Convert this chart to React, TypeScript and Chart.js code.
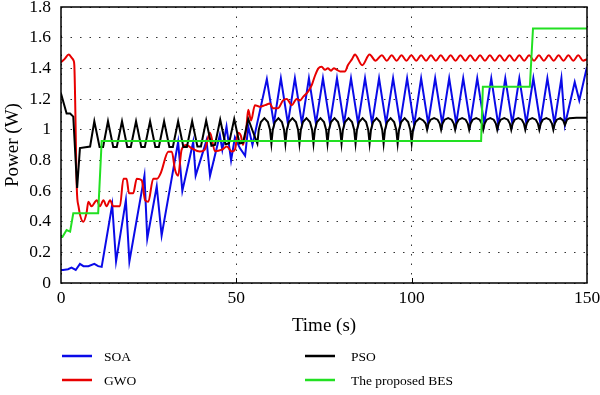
import React, { useEffect, useRef } from "react";
import { Chart, registerables } from "chart.js";

Chart.register(...registerables);

const seriesLabels = ["SOA", "GWO", "PSO", "The proposed BES"];
const seriesColors = ["#0a0ae8", "#e80000", "#000000", "#22e022"];
const xTicks = [0, 50, 100, 150];
const yTicks = [0, 0.2, 0.4, 0.6, 0.8, 1, 1.2, 1.4, 1.6, 1.8];
const xTitle = "Time (s)";
const yTitle = "Power (W)";

// [time (s), power (W)]
const soa: [number, number][] = [
  [0, 0.085], [0.6, 0.085], [2, 0.09], [3, 0.1], [4.2, 0.085], [5.4, 0.125], [6.4, 0.11], [7.8, 0.11],
  [9.5, 0.125], [10.6, 0.11], [11.6, 0.105],
  [14.6, 0.51], [15.7, 0.14], [18.5, 0.54], [19.5, 0.14], [23.8, 0.7], [24.6, 0.29], [27.3, 0.63],
  [28.7, 0.31], [33.4, 0.92], [34.6, 0.6], [37.7, 0.92], [38.4, 0.7], [41.5, 0.93], [42.5, 0.7],
  [45.3, 0.965], [46, 0.87], [47.2, 1.02], [48.5, 0.8], [49.6, 0.95], [51, 0.88], [52.5, 0.83],
  [53.4, 1.02], [54.6, 0.9],
  [58.7, 1.33], [60.7, 1.04], [62.7, 1.335], [64.7, 1.04], [66.7, 1.335], [68.7, 1.04], [70.7, 1.335],
  [72.7, 1.04], [74.7, 1.335], [76.7, 1.04], [78.7, 1.335], [80.7, 1.04], [82.7, 1.335], [84.7, 1.04],
  [86.7, 1.335], [88.7, 1.04], [90.7, 1.335], [92.7, 1.04], [94.7, 1.335], [96.7, 1.04], [98.7, 1.335],
  [100.7, 1.03], [102.7, 1.335], [104.7, 1.04], [106.7, 1.335], [108.7, 1.04], [110.7, 1.335],
  [112.7, 1.04], [114.7, 1.335], [116.7, 1.04], [118.7, 1.335], [120.7, 1.04], [122.7, 1.335],
  [124.7, 1.03], [126.7, 1.335], [128.7, 1.04], [130.7, 1.335], [132.7, 1.04], [134.7, 1.335],
  [136.7, 1.04], [138.7, 1.335], [140.7, 1.04], [142.7, 1.335], [143.7, 1.03], [146.5, 1.31],
  [147.8, 1.19], [150, 1.41],
];

const gwo: [number, number][] = [
  [0, 1.44], [1, 1.46], [2.2, 1.49], [3, 1.47], [3.6, 1.45], [3.8, 1.42], [4.5, 0.62], [5, 0.5],
  [6.4, 0.4], [7.3, 0.46], [7.8, 0.53], [8.7, 0.5], [10.2, 0.54], [11.1, 0.5], [12.1, 0.54], [13, 0.5],
  [14, 0.54], [14.9, 0.5], [16.8, 0.5], [17.8, 0.68], [18.7, 0.68], [19.4, 0.585], [20.6, 0.585],
  [21.6, 0.68], [23, 0.67], [24, 0.54], [24.9, 0.53], [26.3, 0.68], [27.4, 0.68], [28.5, 0.72],
  [30.6, 0.856], [31.6, 0.856], [32.5, 0.74], [33.4, 0.7], [34.4, 0.87], [35.8, 0.9], [37.2, 0.88],
  [39.6, 0.857], [41, 0.87], [42.5, 0.98], [43.9, 0.86], [45.9, 0.87], [47.3, 0.89], [48.7, 0.857],
  [49.6, 0.87], [50.5, 0.98], [51.3, 0.96], [51.9, 0.9], [52.8, 1], [53.4, 1.13], [54.2, 1.06],
  [55.3, 1.16], [56.7, 1.15], [58.2, 1.16], [59.6, 1.17], [60.4, 1.14], [61.9, 1.14], [63.3, 1.19],
  [64.4, 1.2], [65.8, 1.16], [67.2, 1.2], [68.1, 1.19], [69.1, 1.215], [70.5, 1.25], [71.5, 1.29],
  [72.4, 1.35], [73.4, 1.4], [74.3, 1.41], [75.3, 1.39], [76.1, 1.4], [77, 1.385], [77.8, 1.4],
  [78.7, 1.39], [79.6, 1.38], [81, 1.38], [81.8, 1.42], [83, 1.46], [83.8, 1.49], [85.9, 1.42],
  [88, 1.49], [89.7, 1.45],
  [91.5, 1.485], [92.9, 1.45], [94.3, 1.485], [95.7, 1.45], [97.1, 1.485], [98.5, 1.45], [99.9, 1.485],
  [101.3, 1.45], [102.7, 1.485], [104.1, 1.45], [105.5, 1.485], [106.9, 1.45], [108.3, 1.485],
  [109.7, 1.45], [111.1, 1.485], [112.5, 1.45], [113.9, 1.485], [115.3, 1.45], [116.7, 1.485],
  [118.1, 1.45], [119.5, 1.485], [120.9, 1.45], [122.3, 1.485], [123.7, 1.45], [125.1, 1.485],
  [126.5, 1.45], [127.9, 1.485], [129.3, 1.45], [130.7, 1.485], [132.1, 1.45], [133.5, 1.485],
  [134.9, 1.45], [136.3, 1.485], [137.7, 1.45], [139.1, 1.485], [140.5, 1.45], [141.9, 1.485],
  [143.3, 1.45], [144.7, 1.485], [146.1, 1.45], [147.5, 1.485], [148.9, 1.45], [150, 1.46],
];

const pso: [number, number][] = [
  [0, 1.235], [0.8, 1.17], [1.6, 1.105], [2.6, 1.105], [3.5, 1.085], [4.6, 0.62], [5.4, 0.88], [8.3, 0.89],
  [9.5, 1.055], [11, 0.887], [12, 0.887],
  [13.4, 1.055], [14.9, 0.887], [15.9, 0.887],
  [17.4, 1.055], [18.9, 0.887], [19.9, 0.887],
  [21.4, 1.055], [22.9, 0.887], [23.9, 0.887],
  [25.4, 1.055], [26.9, 0.887], [27.9, 0.887],
  [29.4, 1.055], [30.9, 0.887], [31.9, 0.887],
  [33.4, 1.055], [34.9, 0.887], [35.9, 0.887],
  [37.4, 1.055], [38.9, 0.89], [39.9, 0.89],
  [41.4, 1.06], [42.9, 0.895], [43.9, 0.9],
  [45.4, 1.065], [46.9, 0.905], [47.9, 0.91],
  [49.4, 1.07], [50.9, 0.91], [51.9, 0.915],
  [53.4, 1.07], [55, 0.97],
  [56, 0.91], [56.4, 1], [57, 1.05], [58, 1.075], [59, 1.05], [59.6, 1],
  [60, 0.91], [60.4, 1], [61, 1.05], [62, 1.075], [63, 1.05], [63.6, 1],
  [64, 0.91], [64.4, 1], [65, 1.05], [66, 1.075], [67, 1.05], [67.6, 1],
  [68, 0.91], [68.4, 1], [69, 1.05], [70, 1.075], [71, 1.05], [71.6, 1],
  [72, 0.91], [72.4, 1], [73, 1.05], [74, 1.075], [75, 1.05], [75.6, 1],
  [76, 0.91], [76.4, 1], [77, 1.05], [78, 1.075], [79, 1.05], [79.6, 1],
  [80, 0.91], [80.4, 1], [81, 1.05], [82, 1.075], [83, 1.05], [83.6, 1],
  [84, 0.91], [84.4, 1], [85, 1.05], [86, 1.075], [87, 1.05], [87.6, 1],
  [88, 0.91], [88.4, 1], [89, 1.05], [90, 1.075], [91, 1.05], [91.6, 1],
  [92, 0.91], [92.4, 1], [93, 1.05], [94, 1.075], [95, 1.05], [95.6, 1],
  [96, 0.91], [96.4, 1], [97, 1.05], [98, 1.075], [99, 1.05], [99.6, 1],
  [100, 0.915], [100.4, 1], [101.1, 1.05], [102.2, 1.075], [103.3, 1.06], [104, 1.04],
  [104.4, 1], [104.8, 1.04], [105.4, 1.065], [106.4, 1.075], [107.4, 1.065], [108, 1.04],
  [108.4, 1], [108.8, 1.04], [109.4, 1.065], [110.4, 1.075], [111.4, 1.065], [112, 1.04],
  [112.4, 1], [112.8, 1.04], [113.4, 1.065], [114.4, 1.075], [115.4, 1.065], [116, 1.04],
  [116.4, 1], [116.8, 1.04], [117.4, 1.065], [118.4, 1.075], [119.4, 1.065], [120, 1.04],
  [120.4, 1], [120.8, 1.04], [121.4, 1.065], [122.4, 1.075], [123.4, 1.065], [124, 1.04],
  [124.4, 1], [124.8, 1.04], [125.4, 1.065], [126.4, 1.075], [127.4, 1.065], [128, 1.04],
  [128.4, 1], [128.8, 1.04], [129.4, 1.065], [130.4, 1.075], [131.4, 1.065], [132, 1.04],
  [132.4, 1], [132.8, 1.04], [133.4, 1.065], [134.4, 1.075], [135.4, 1.065], [136, 1.04],
  [136.4, 1], [136.8, 1.04], [137.4, 1.065], [138.4, 1.075], [139.4, 1.065], [140, 1.04],
  [140.4, 1], [140.8, 1.04], [141.4, 1.065], [142.4, 1.075], [143.2, 1.06], [143.7, 1.03],
  [144.3, 1.065], [145, 1.075], [147, 1.078], [150, 1.078],
];

const bes: [number, number][] = [
  [0, 0.3], [0.4, 0.3], [1.6, 0.345], [2.6, 0.335], [3.5, 0.455], [10.6, 0.455], [11.6, 0.926],
  [119.8, 0.926], [120.3, 1.28], [133.7, 1.28], [134.6, 1.66], [150, 1.66],
];

const FONT = "'Liberation Serif', 'Times New Roman', serif";

const toXY = (arr: [number, number][]) => arr.map(([x, y]) => ({ x, y }));

const decorPlugin = {
  id: "frameAndLegend",
  afterDraw(chart: any) {
    const { ctx, chartArea: a, scales } = chart;
    ctx.save();
    // frame
    ctx.strokeStyle = "#000";
    ctx.lineWidth = 1.5;
    ctx.strokeRect(a.left, a.top, a.right - a.left, a.bottom - a.top);
    // inner tick marks on the x axis
    ctx.lineWidth = 1;
    xTicks.slice(1, -1).forEach((v) => {
      const x = Math.round(scales.x.getPixelForValue(v)) + 0.5;
      ctx.beginPath();
      ctx.moveTo(x, a.bottom);
      ctx.lineTo(x, a.bottom - 5);
      ctx.stroke();
    });
    // legend: two columns, column-major order
    const colSwatchX = [62, 305];
    const colTextX = [104, 351];
    const rowY = [356, 380];
    ctx.font = `13.5px ${FONT}`;
    ctx.textBaseline = "middle";
    ctx.textAlign = "left";
    seriesLabels.forEach((label, i) => {
      const col = Math.floor(i / 2);
      const row = i % 2;
      const y = rowY[row];
      ctx.strokeStyle = seriesColors[i];
      ctx.lineWidth = 2.5;
      ctx.beginPath();
      ctx.moveTo(colSwatchX[col], y);
      ctx.lineTo(colSwatchX[col] + 30, y);
      ctx.stroke();
      ctx.fillStyle = "#000";
      ctx.fillText(label, colTextX[col], y + 1);
    });
    ctx.restore();
  },
};

export default function App() {
  const ref = useRef<HTMLCanvasElement | null>(null);

  useEffect(() => {
    if (!ref.current) return;
    const ds = (idx: number, data: [number, number][], extra: any = {}) => ({
      label: seriesLabels[idx],
      data: toXY(data),
      borderColor: seriesColors[idx],
      backgroundColor: seriesColors[idx],
      borderWidth: 2,
      pointRadius: 0,
      fill: false,
      ...extra,
    });
    const chart = new Chart(ref.current, {
      type: "line",
      data: {
        datasets: [
          ds(3, bes),
          ds(2, pso),
          ds(1, gwo, { cubicInterpolationMode: "monotone" }),
          ds(0, soa),
        ],
      },
      options: {
        responsive: false,
        animation: false,
        devicePixelRatio: 1,
        layout: { padding: { left: 0, right: 13, top: 7, bottom: 54 } },
        plugins: { legend: { display: false }, tooltip: { enabled: false } },
        scales: {
          x: {
            type: "linear",
            min: 0,
            max: 150,
            afterBuildTicks: (s: any) => {
              s.ticks = xTicks.map((v) => ({ value: v }));
            },
            afterFit: (s: any) => {
              s.height = 58;
              s.paddingLeft = 0;
              s.paddingRight = 0;
            },
            ticks: {
              color: "#000",
              font: { family: FONT, size: 17.5 },
              padding: 5,
              maxRotation: 0,
              callback: (v: any) => String(v),
            },
            grid: { color: "#333", lineWidth: 1, drawTicks: false },
            border: { display: false, dash: [1.5, 8] },
            title: {
              display: true,
              text: xTitle,
              color: "#000",
              font: { family: FONT, size: 19 },
              padding: { top: 4, bottom: 4 },
            },
          },
          y: {
            type: "linear",
            min: 0,
            max: 1.8,
            afterBuildTicks: (s: any) => {
              s.ticks = yTicks.map((v) => ({ value: v }));
            },
            afterFit: (s: any) => {
              s.width = 61;
              s.paddingTop = 0;
              s.paddingBottom = 0;
            },
            ticks: {
              color: "#000",
              font: { family: FONT, size: 17.5 },
              padding: 10,
              callback: (v: any) => String(v),
            },
            grid: { color: "#333", lineWidth: 1, drawTicks: false },
            border: { display: false, dash: [1.5, 8] },
            title: {
              display: true,
              text: yTitle,
              color: "#000",
              font: { family: FONT, size: 19 },
              padding: { top: 2, bottom: 4 },
            },
          },
        },
      },
      plugins: [decorPlugin],
    } as any);
    return () => chart.destroy();
  }, []);

  return (
    <div style={{ position: "absolute", left: 0, top: 0, width: 600, height: 395, background: "#fff" }}>
      <canvas ref={ref} width={600} height={395} style={{ width: 600, height: 395, display: "block" }} />
    </div>
  );
}
